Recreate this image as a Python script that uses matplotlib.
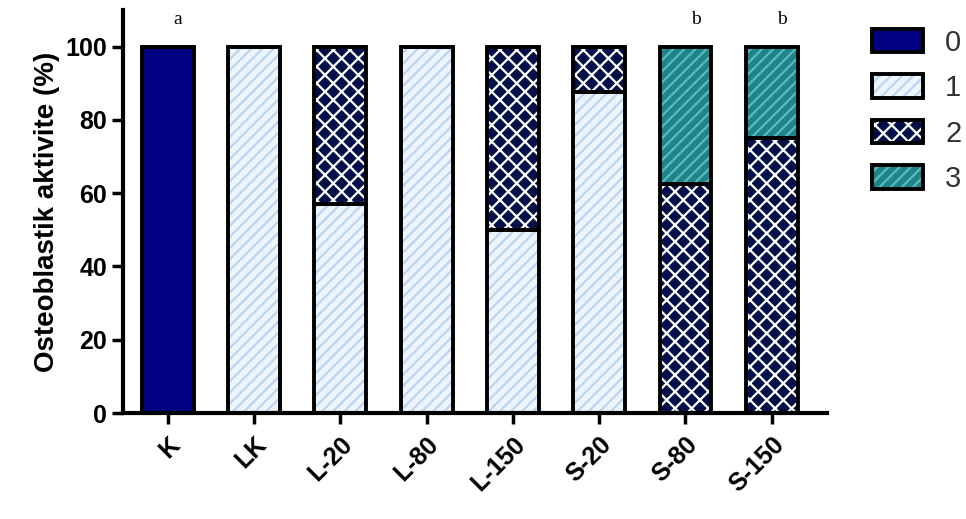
import matplotlib.pyplot as plt
from matplotlib.patches import Patch
from matplotlib.legend_handler import HandlerTuple

plt.rcParams['font.family'] = ['Liberation Sans', 'DejaVu Sans']
plt.rcParams['hatch.linewidth'] = 1.6

groups = ["K", "LK", "L-20", "L-80", "L-150", "S-20", "S-80", "S-150"]
score_0 = [100, 0, 0, 0, 0, 0, 0, 0]
score_1 = [0, 100, 57, 100, 50, 87.5, 0, 0]
score_2 = [0, 0, 43, 0, 50, 12.5, 62.5, 75]
score_3 = [0, 0, 0, 0, 0, 0, 37.5, 25]
letters = ["a", "", "", "", "", "", "b", "b"]

# face, hatch colour, hatch
styles = [
    ("#020282", "#020282", ""),
    ("#eef4fc", "#bcd5f0", "///"),
    ("#05104a", "#ffffff", "xx"),
    ("#1d8589", "#5cb8bd", "///"),
]
series = [score_0, score_1, score_2, score_3]

fig = plt.figure(figsize=(9.66, 5.19), dpi=100)
ax = fig.add_axes([0.1273, 0.2042, 0.856 - 0.1273, 0.9807 - 0.2042])

x = range(len(groups))
w = 0.6
bottom = [0] * len(groups)
handles = []
for vals, (face, hcol, hatch) in zip(series, styles):
    # fill with hatch, then a black outline on top
    ax.bar(x, vals, w, bottom=bottom, color=face, edgecolor=hcol,
           hatch=hatch, linewidth=0, zorder=2)
    ax.bar(x, vals, w, bottom=bottom, fill=False, edgecolor="black",
           linewidth=2.8, zorder=3)
    bottom = [b + v for b, v in zip(bottom, vals)]
    h1 = Patch(facecolor=face, edgecolor=hcol, hatch=hatch, linewidth=0)
    h2 = Patch(fill=False, edgecolor="black", linewidth=2.8)
    handles.append((h1, h2))

for i, t in enumerate(letters):
    if t:
        ax.text(i + 0.12, 107.5, t, ha="center", va="center",
                fontsize=14, family="Liberation Serif")

ax.set_xlim(-0.52, 7.64)
ax.set_ylim(0, 110)
ax.set_yticks([0, 20, 40, 60, 80, 100])
ax.set_xticks(list(x))
ax.set_xticklabels(groups, rotation=45, ha="right", rotation_mode="anchor",
                   fontsize=18, fontweight="bold")
for lab in ax.get_yticklabels():
    lab.set_fontsize(18)
    lab.set_fontweight("bold")
ax.tick_params(width=2.5, length=8, direction="out")
ax.tick_params(axis="x", pad=6)
ax.spines["top"].set_visible(False)
ax.spines["right"].set_visible(False)
ax.spines["left"].set_linewidth(3)
ax.spines["bottom"].set_linewidth(3)
ax.set_ylabel("Osteoblastik aktivite (%)", fontsize=20, fontweight="bold")

fig.legend(handles, ["0", "1", "2", "3"], handler_map={tuple: HandlerTuple(ndivide=1)},
           loc="upper left", bbox_to_anchor=(0.903, 0.945), frameon=False,
           borderpad=0, borderaxespad=0,
           fontsize=21, handlelength=1.75, handleheight=0.85, labelspacing=0.6,
           handletextpad=0.75, labelcolor="#333333")

fig.savefig("out.png", dpi=100)
